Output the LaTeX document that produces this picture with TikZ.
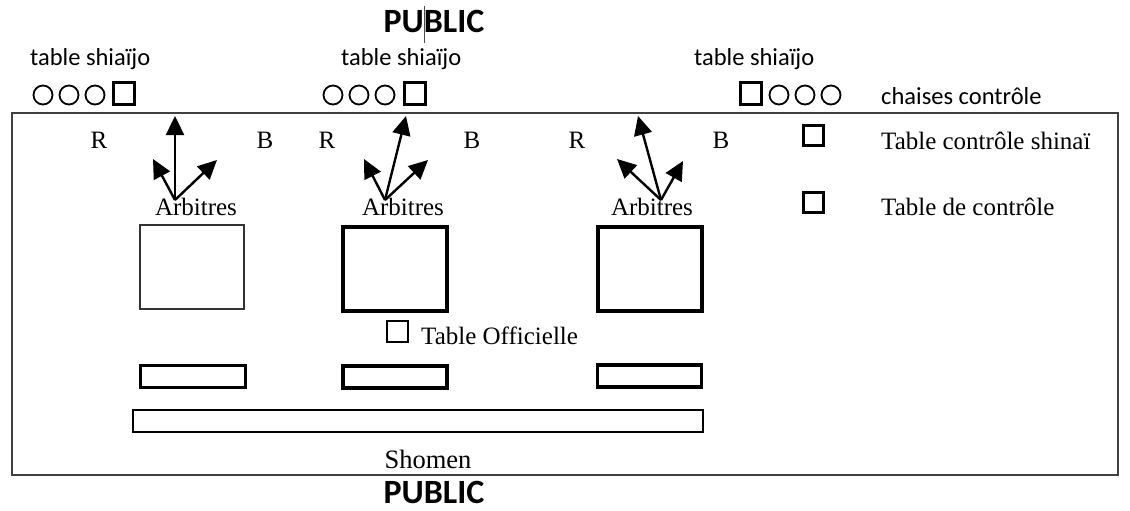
\documentclass[tikz,border=0pt]{standalone}
\usepackage{fontspec}
\setmainfont{Liberation Serif}
\newfontfamily\calibri{Carlito}
\usetikzlibrary{arrows.meta}
\begin{document}
\begin{tikzpicture}[x=1pt,y=-1pt,
  sans/.style={font=\calibri\fontsize{24.5}{28}\selectfont, inner sep=0pt},
  serif/.style={font=\fontsize{25}{30}\selectfont, inner sep=0pt},
  pub/.style={font=\calibri\bfseries\fontsize{34}{38}\selectfont, inner sep=0pt},
  chair/.style={circle, draw, line width=1.8pt, minimum size=19pt, inner sep=0pt},
  seat/.style={rectangle, draw, line width=3pt, minimum size=21pt, inner sep=0pt},
  mat/.style={rectangle, draw, line width=4pt, minimum width=104pt, minimum height=84pt, inner sep=0pt},
  thinmat/.style={mat, line width=2pt, draw=black!80},
  bench/.style={rectangle, draw, line width=3.8pt, minimum width=104pt, minimum height=22pt, inner sep=0pt},
  arr/.style={line width=2.4pt, -{Triangle[length=19pt,width=18pt]}},
]
\useasboundingbox (0,0) rectangle (1130,511);

% field
\node[draw=black!75, line width=1.5pt, minimum width=1106pt, minimum height=362pt, inner sep=0pt] (field) at (565,294) {};

% PUBLIC labels
\node[pub, anchor=base] (pubtop) at (434,33) {PUBLIC};
\draw[line width=0.8pt, black!70] (424,6) -- (424,43);
\node[pub, anchor=base] (pubbot) at (434,503) {PUBLIC};

% table shiaijo labels
\node[sans, anchor=base west] (ts1) at (30,66) {table shiaïjo};
\node[sans, anchor=base west] (ts2) at (341,66) {table shiaïjo};
\node[sans, anchor=base west] (ts3) at (694,66) {table shiaïjo};

% chairs row 1
\node[chair] (c11) at (43,95) {};
\node[chair] (c12) at (69,95) {};
\node[chair] (c13) at (95,95) {};
\node[seat] (s1) at (123.5,93.5) {};
% chairs row 2
\node[chair] (c21) at (333,95) {};
\node[chair] (c22) at (359,95) {};
\node[chair] (c23) at (385,95) {};
\node[seat] (s2) at (414.5,93.5) {};
% chairs row 3
\node[seat] (s3) at (750.5,93.5) {};
\node[chair] (c31) at (779,95) {};
\node[chair] (c32) at (805,95) {};
\node[chair] (c33) at (831,95) {};
\node[sans, anchor=base west] (chc) at (881,104) {chaises contrôle};

% right side legend
\node[seat, minimum size=20pt] (tcs) at (813,135.5) {};
\node[serif, anchor=base west] (tcsl) at (881,149) {Table contrôle shinaï};
\node[seat, minimum size=20pt] (tc) at (813,202) {};
\node[serif, anchor=base west] (tcl) at (881,215) {Table de contrôle};

% R / B labels
\node[serif, anchor=base] (r1) at (99,148) {R};
\node[serif, anchor=base] (b1) at (265,148) {B};
\node[serif, anchor=base] (r2) at (327,148) {R};
\node[serif, anchor=base] (b2) at (472,148) {B};
\node[serif, anchor=base] (r3) at (577,148) {R};
\node[serif, anchor=base] (b3) at (721,148) {B};

% Arbitres
\node[serif, anchor=base] (a1) at (196,215) {Arbitres};
\node[serif, anchor=base] (a2) at (403,215) {Arbitres};
\node[serif, anchor=base] (a3) at (652,215) {Arbitres};

% arrows group 1
\coordinate (o1) at (175,200);
\coordinate (u1) at (175,116);
\coordinate (l1) at (153,159);
\coordinate (g1) at (217,160);
\draw[arr] (o1) -- (u1);
\draw[arr] (o1) -- (l1);
\draw[arr] (o1) -- (g1);
% arrows group 2
\coordinate (o2) at (385,200);
\coordinate (u2) at (406,116);
\coordinate (l2) at (364,159);
\coordinate (g2) at (428,160);
\draw[arr] (o2) -- (u2);
\draw[arr] (o2) -- (l2);
\draw[arr] (o2) -- (g2);
% arrows group 3
\coordinate (o3) at (661,200);
\coordinate (u3) at (638,116);
\coordinate (l3) at (617,159);
\coordinate (g3) at (683,161);
\draw[arr] (o3) -- (u3);
\draw[arr] (o3) -- (l3);
\draw[arr] (o3) -- (g3);

% mats
\node[thinmat] (m1) at (192,267) {};
\node[mat] (m2) at (395,269) {};
\node[mat] (m3) at (649.5,269) {};

% official table
\node[seat, line width=2.8pt, minimum size=21pt] (ot) at (397.5,331.5) {};
\node[serif, anchor=base west] (otl) at (421,344) {Table Officielle};

% benches
\node[bench, minimum width=105pt] (bn1) at (193,376.5) {};
\node[bench, line width=3.4pt] (bn2) at (395,377) {};
\node[bench, line width=3.4pt] (bn3) at (649.5,376) {};
\node[rectangle, draw, line width=2.2pt, minimum width=570pt, minimum height=22pt, inner sep=0pt] (shomen) at (418,421) {};
\node[serif, font=\fontsize{26.5}{30}\selectfont, anchor=base] (shl) at (428,468) {Shomen};
\end{tikzpicture}
\end{document}
